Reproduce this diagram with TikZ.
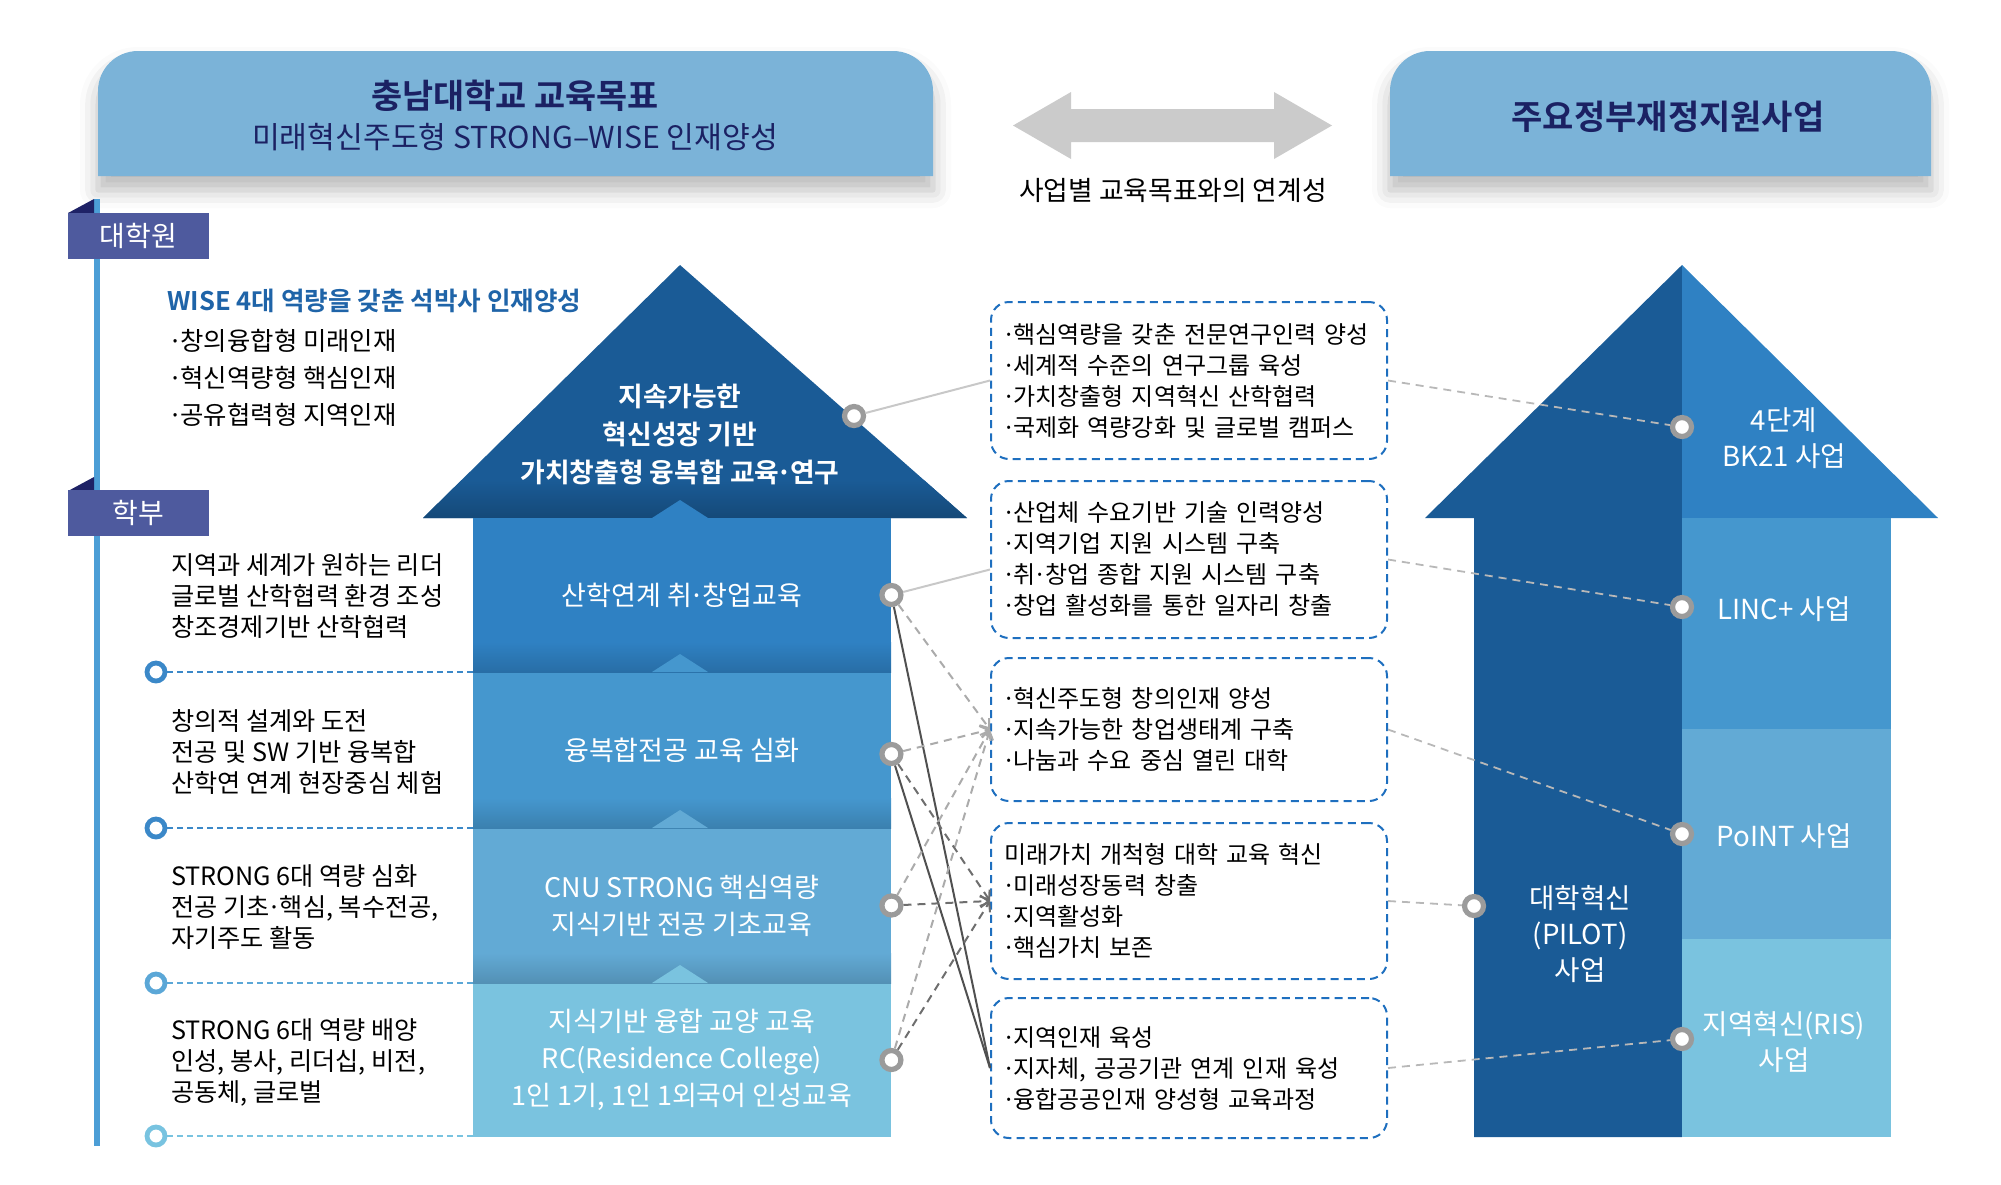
\documentclass[tikz,border=0pt]{standalone}
\usepackage{fontspec}
\setmainfont{Noto Sans CJK KR}[BoldFont={Noto Sans CJK KR Bold}]
\usepackage{tikz}
\usetikzlibrary{calc,positioning,arrows.meta,shadows.blur}
\usepackage{xcolor}
\definecolor{HeadBlue}{HTML}{7BB3D8}
\definecolor{HeadInk}{HTML}{1B2163}
\definecolor{TabSlate}{HTML}{4E5A9E}
\definecolor{TabNavy}{HTML}{1E2266}
\definecolor{TimeBar}{HTML}{4C9ED6}
\definecolor{ArrowDark}{HTML}{1A5B96}
\definecolor{BandA}{HTML}{2F81C3}
\definecolor{BandB}{HTML}{4597CE}
\definecolor{BandC}{HTML}{62AAD5}
\definecolor{BandD}{HTML}{7AC3DF}
\definecolor{WiseBlue}{HTML}{1F64A8}
\definecolor{BoxDash}{HTML}{1E6FBF}
\definecolor{Ring}{HTML}{9B9B9B}
\definecolor{LinkGray}{HTML}{CBCBCB}
\definecolor{LineLight}{HTML}{C8C8C8}
\definecolor{LineMid}{HTML}{ABABAB}
\definecolor{LineDark}{HTML}{6E6E6E}
\definecolor{LineSolid}{HTML}{505050}
\definecolor{TimeA}{HTML}{3B88C8}
\definecolor{TimeB}{HTML}{5BA7D7}
\definecolor{TimeC}{HTML}{78C3E0}
\newcommand{\mdot}{\makebox[0.4em][c]{·}}

\begin{document}
\begin{tikzpicture}[x=0.5pt,y=-0.5pt,every node/.style={align=center,inner sep=0pt},
  hub/.style={circle,draw=Ring,line width=2.6pt,fill=white,minimum size=9.5pt},
  tick/.style={circle,draw=#1,line width=2.4pt,fill=white,minimum size=9pt},
  tab/.style={fill=TabSlate,text=white,minimum width=70.5pt,minimum height=23pt,font=\fontsize{14}{16}\selectfont},
  band/.style={fill=#1,text=white,minimum width=209pt,font=\fontsize{13.5}{18.5}\selectfont},
  goal/.style={draw=BoxDash,line width=1pt,dash pattern=on 4pt off 2.6pt,rounded corners=9pt,text width=185pt,align=left,inner xsep=6.5pt,font=\fontsize{12}{15.5}\selectfont},
  desc/.style={anchor=west,align=left,font=\fontsize{12.6}{15.5}\selectfont},
  biz/.style={text=white,font=\fontsize{13.8}{18.2}\selectfont},
  head/.style={fill=HeadBlue,blur shadow={shadow xshift=0pt,shadow yshift=-7pt,shadow blur radius=9pt,shadow opacity=28}}]
  \useasboundingbox (0,0) rectangle (2001,1184);

  % headers
  \path[head] (98,176) {[rounded corners=20pt] -- (98,51) -- (933,51)} -- (933,176) -- cycle;
  \path[head] (1390,176) {[rounded corners=20pt] -- (1390,51) -- (1931,51)} -- (1931,176) -- cycle;
  \node[text=HeadInk,font=\bfseries\fontsize{16.9}{19}\selectfont] (cnu) at (515,96) {충남대학교 교육목표};
  \node[text=HeadInk,font=\fontsize{15.1}{17}\selectfont] (cnusub) at (515,137) {미래혁신주도형 STRONG–WISE 인재양성};
  \node[text=HeadInk,font=\bfseries\fontsize{17}{19}\selectfont] (gov) at (1668,117) {주요정부재정지원사업};
  \fill[LinkGray] (1013,125.5) -- (1071,92) -- (1071,109) -- (1274,109) -- (1274,92) -- (1332,125.5)
    -- (1274,159) -- (1274,142) -- (1071,142) -- (1071,159) -- cycle;
  \node[font=\fontsize{13.4}{15}\selectfont] (linklabel) at (1173,190) {사업별 교육목표와의 연계성};

  % timeline
  \fill[TimeBar] (94,199) rectangle (100,1146);
  \fill[TabNavy] (68,213) -- (94,199) -- (94,213) -- cycle;
  \fill[TabNavy] (68,491) -- (94,477) -- (94,491) -- cycle;
  \node[tab] (grad) at (138.5,236) {대학원};
  \node[tab] (under) at (138.5,513) {학부};
  \node[anchor=west,text=WiseBlue,font=\bfseries\fontsize{12.8}{15}\selectfont] (wise) at (167,301) {WISE 4대 역량을 갖춘 석박사 인재양성};
  \node[anchor=west,align=left,font=\fontsize{12.7}{18.5}\selectfont] (wiselist) at (170,378) {\mdot 창의융합형 미래인재\\\mdot 혁신역량형 핵심인재\\\mdot 공유협력형 지역인재};
  \node[desc] (d1) at (171,596) {지역과 세계가 원하는 리더\\글로벌 산학협력 환경 조성\\창조경제기반 산학협력};
  \node[desc] (d2) at (171,752) {창의적 설계와 도전\\전공 및 SW 기반 융복합\\산학연 연계 현장중심 체험};
  \node[desc] (d3) at (171,907) {STRONG 6대 역량 심화\\전공 기초\mdot 핵심, 복수전공,\\자기주도 활동};
  \node[desc] (d4) at (171,1062) {STRONG 6대 역량 배양\\인성, 봉사, 리더십, 비전,\\공동체, 글로벌};

  % left arrow
  \fill[ArrowDark] (680,265) -- (967,518) -- (423,518) -- cycle;
  \begin{scope}
    \clip (680,265) -- (967,518) -- (423,518) -- cycle;
    \shade[top color=ArrowDark,bottom color=ArrowDark!80!black] (423,480) rectangle (967,518);
  \end{scope}
  \node[band=BandA,minimum height=77pt] (s1) at (682,595) {산학연계 취\mdot 창업교육};
  \node[band=BandB,minimum height=78pt] (s2) at (682,750) {융복합전공 교육 심화};
  \node[band=BandC,minimum height=77.5pt] (s3) at (682,905.5) {CNU STRONG 핵심역량\\지식기반 전공 기초교육};
  \node[band=BandD,minimum height=77pt] (s4) at (682,1060) {지식기반 융합 교양 교육\\RC(Residence College)\\1인 1기, 1인 1외국어 인성교육};
  \shade[top color=BandA,bottom color=BandA!85!black] (473,642) rectangle (891,672);
  \shade[top color=BandB,bottom color=BandB!85!black] (473,798) rectangle (891,828);
  \shade[top color=BandC,bottom color=BandC!85!black] (473,953) rectangle (891,983);
  \fill[BandA] (652,518) -- (680,500) -- (708,518) -- cycle;
  \fill[BandB] (652,672) -- (680,654) -- (708,672) -- cycle;
  \fill[BandC] (652,828) -- (680,810) -- (708,828) -- cycle;
  \fill[BandD] (652,983) -- (680,965) -- (708,983) -- cycle;
  \node[text=white,font=\bfseries\fontsize{13.4}{19}\selectfont] (top) at (680,434) {지속가능한\\혁신성장 기반\\가치창출형 융복합 교육\mdot 연구};

  \node[tick=TimeA] (t1) at (156,672) {};
  \node[tick=TimeA] (t2) at (156,828) {};
  \node[tick=TimeB] (t3) at (156,983) {};
  \node[tick=TimeC] (t4) at (156,1136) {};
  \draw[TimeA,line width=0.8pt,dash pattern=on 3pt off 2pt] (t1) -- (t1 -| s1.west);
  \draw[TimeA,line width=0.8pt,dash pattern=on 3pt off 2pt] (t2) -- (t2 -| s2.west);
  \draw[TimeB,line width=0.8pt,dash pattern=on 3pt off 2pt] (t3) -- (t3 -| s3.west);
  \draw[TimeC,line width=0.8pt,dash pattern=on 3pt off 2pt] (t4) -- (t4 -| s4.west);

  % goals of the programmes
  \node[goal,minimum height=78.5pt] (b1) at (1189,380.5) {\mdot 핵심역량을 갖춘 전문연구인력 양성\\\mdot 세계적 수준의 연구그룹 육성\\\mdot 가치창출형 지역혁신 산학협력\\\mdot 국제화 역량강화 및 글로벌 캠퍼스};
  \node[goal,minimum height=78.5pt] (b2) at (1189,559.5) {\mdot 산업체 수요기반 기술 인력양성\\\mdot 지역기업 지원 시스템 구축\\\mdot 취\mdot 창업 종합 지원 시스템 구축\\\mdot 창업 활성화를 통한 일자리 창출};
  \node[goal,minimum height=71.5pt] (b3) at (1189,729.5) {\mdot 혁신주도형 창의인재 양성\\\mdot 지속가능한 창업생태계 구축\\\mdot 나눔과 수요 중심 열린 대학};
  \node[goal,minimum height=78pt] (b4) at (1189,901) {미래가치 개척형 대학 교육 혁신\\\mdot 미래성장동력 창출\\\mdot 지역활성화\\\mdot 핵심가치 보존};
  \node[goal,minimum height=70pt] (b5) at (1189,1068) {\mdot 지역인재 육성\\\mdot 지자체, 공공기관 연계 인재 육성\\\mdot 융합공공인재 양성형 교육과정};

  % right arrow
  \fill[ArrowDark] (1682,265) -- (1682,1137) -- (1474,1137) -- (1474,518) -- (1425,518) -- cycle;
  \fill[BandA] (1682,265) -- (1938,518) -- (1682,518) -- cycle;
  \fill[BandB] (1682,518) rectangle (1891,729);
  \fill[BandC] (1682,729) rectangle (1891,939);
  \fill[BandD] (1682,939) rectangle (1891,1137);
  \node[biz] (bk) at (1784,438) {4단계\\BK21 사업};
  \node[biz] (linc) at (1784,609) {LINC+ 사업};
  \node[biz] (point) at (1784,836) {PoINT 사업};
  \node[biz] (ris) at (1784,1042) {지역혁신(RIS)\\사업};
  \node[biz] (pilot) at (1580,934) {대학혁신\\(PILOT)\\사업};

  % hubs
  \node[hub] (c0) at (854,416) {};
  \node[hub] (c1) at (s1.east) {};
  \node[hub] (c2) at ($(s2.east)+(0,4)$) {};
  \node[hub] (c3) at (s3.east) {};
  \node[hub] (c4) at (s4.east) {};
  \node[hub] (k1) at (1682,427) {};
  \node[hub] (k2) at (1682,607) {};
  \node[hub] (k3) at (1682,834) {};
  \node[hub] (k4) at (1682,1039) {};
  \node[hub] (k5) at (1474,906) {};

  % links
  \draw[LineLight,line width=1pt] (c0) -- (b1.west);
  \draw[LineLight,line width=1pt] (c1) -- ($(b2.west)+(0,10)$);
  \draw[LineSolid,line width=1pt] (c1) -- (b5.west);
  \draw[LineSolid,line width=1pt] (c2) -- (b5.west);
  \draw[-{Straight Barb[length=4pt,width=6pt]},LineMid,line width=1pt,dash pattern=on 4pt off 3pt] (c1) -- (b3.west);
  \draw[-{Straight Barb[length=4pt,width=6pt]},LineMid,line width=1pt,dash pattern=on 4pt off 3pt] (c2) -- (b3.west);
  \draw[-{Straight Barb[length=4pt,width=6pt]},LineMid,line width=1pt,dash pattern=on 4pt off 3pt] (c3) -- (b3.west);
  \draw[-{Straight Barb[length=4pt,width=6pt]},LineMid,line width=1pt,dash pattern=on 4pt off 3pt] (c4) -- (b3.west);
  \draw[-{Straight Barb[length=4pt,width=6pt]},LineDark,line width=1pt,dash pattern=on 4pt off 3pt] (c2) -- (b4.west);
  \draw[-{Straight Barb[length=4pt,width=6pt]},LineDark,line width=1pt,dash pattern=on 4pt off 3pt] (c3) -- (b4.west);
  \draw[-{Straight Barb[length=4pt,width=6pt]},LineDark,line width=1pt,dash pattern=on 4pt off 3pt] (c4) -- (b4.west);
  \draw[LineMid!85,line width=0.9pt,dash pattern=on 4pt off 3pt] (b1.east) -- (k1);
  \draw[LineMid!85,line width=0.9pt,dash pattern=on 4pt off 3pt] (b2.east) -- (k2);
  \draw[LineMid!85,line width=0.9pt,dash pattern=on 4pt off 3pt] (b3.east) -- (k3);
  \draw[LineMid!85,line width=0.9pt,dash pattern=on 4pt off 3pt] (b4.east) -- (k5);
  \draw[LineMid!85,line width=0.9pt,dash pattern=on 4pt off 3pt] (b5.east) -- (k4);
\end{tikzpicture}
\end{document}
